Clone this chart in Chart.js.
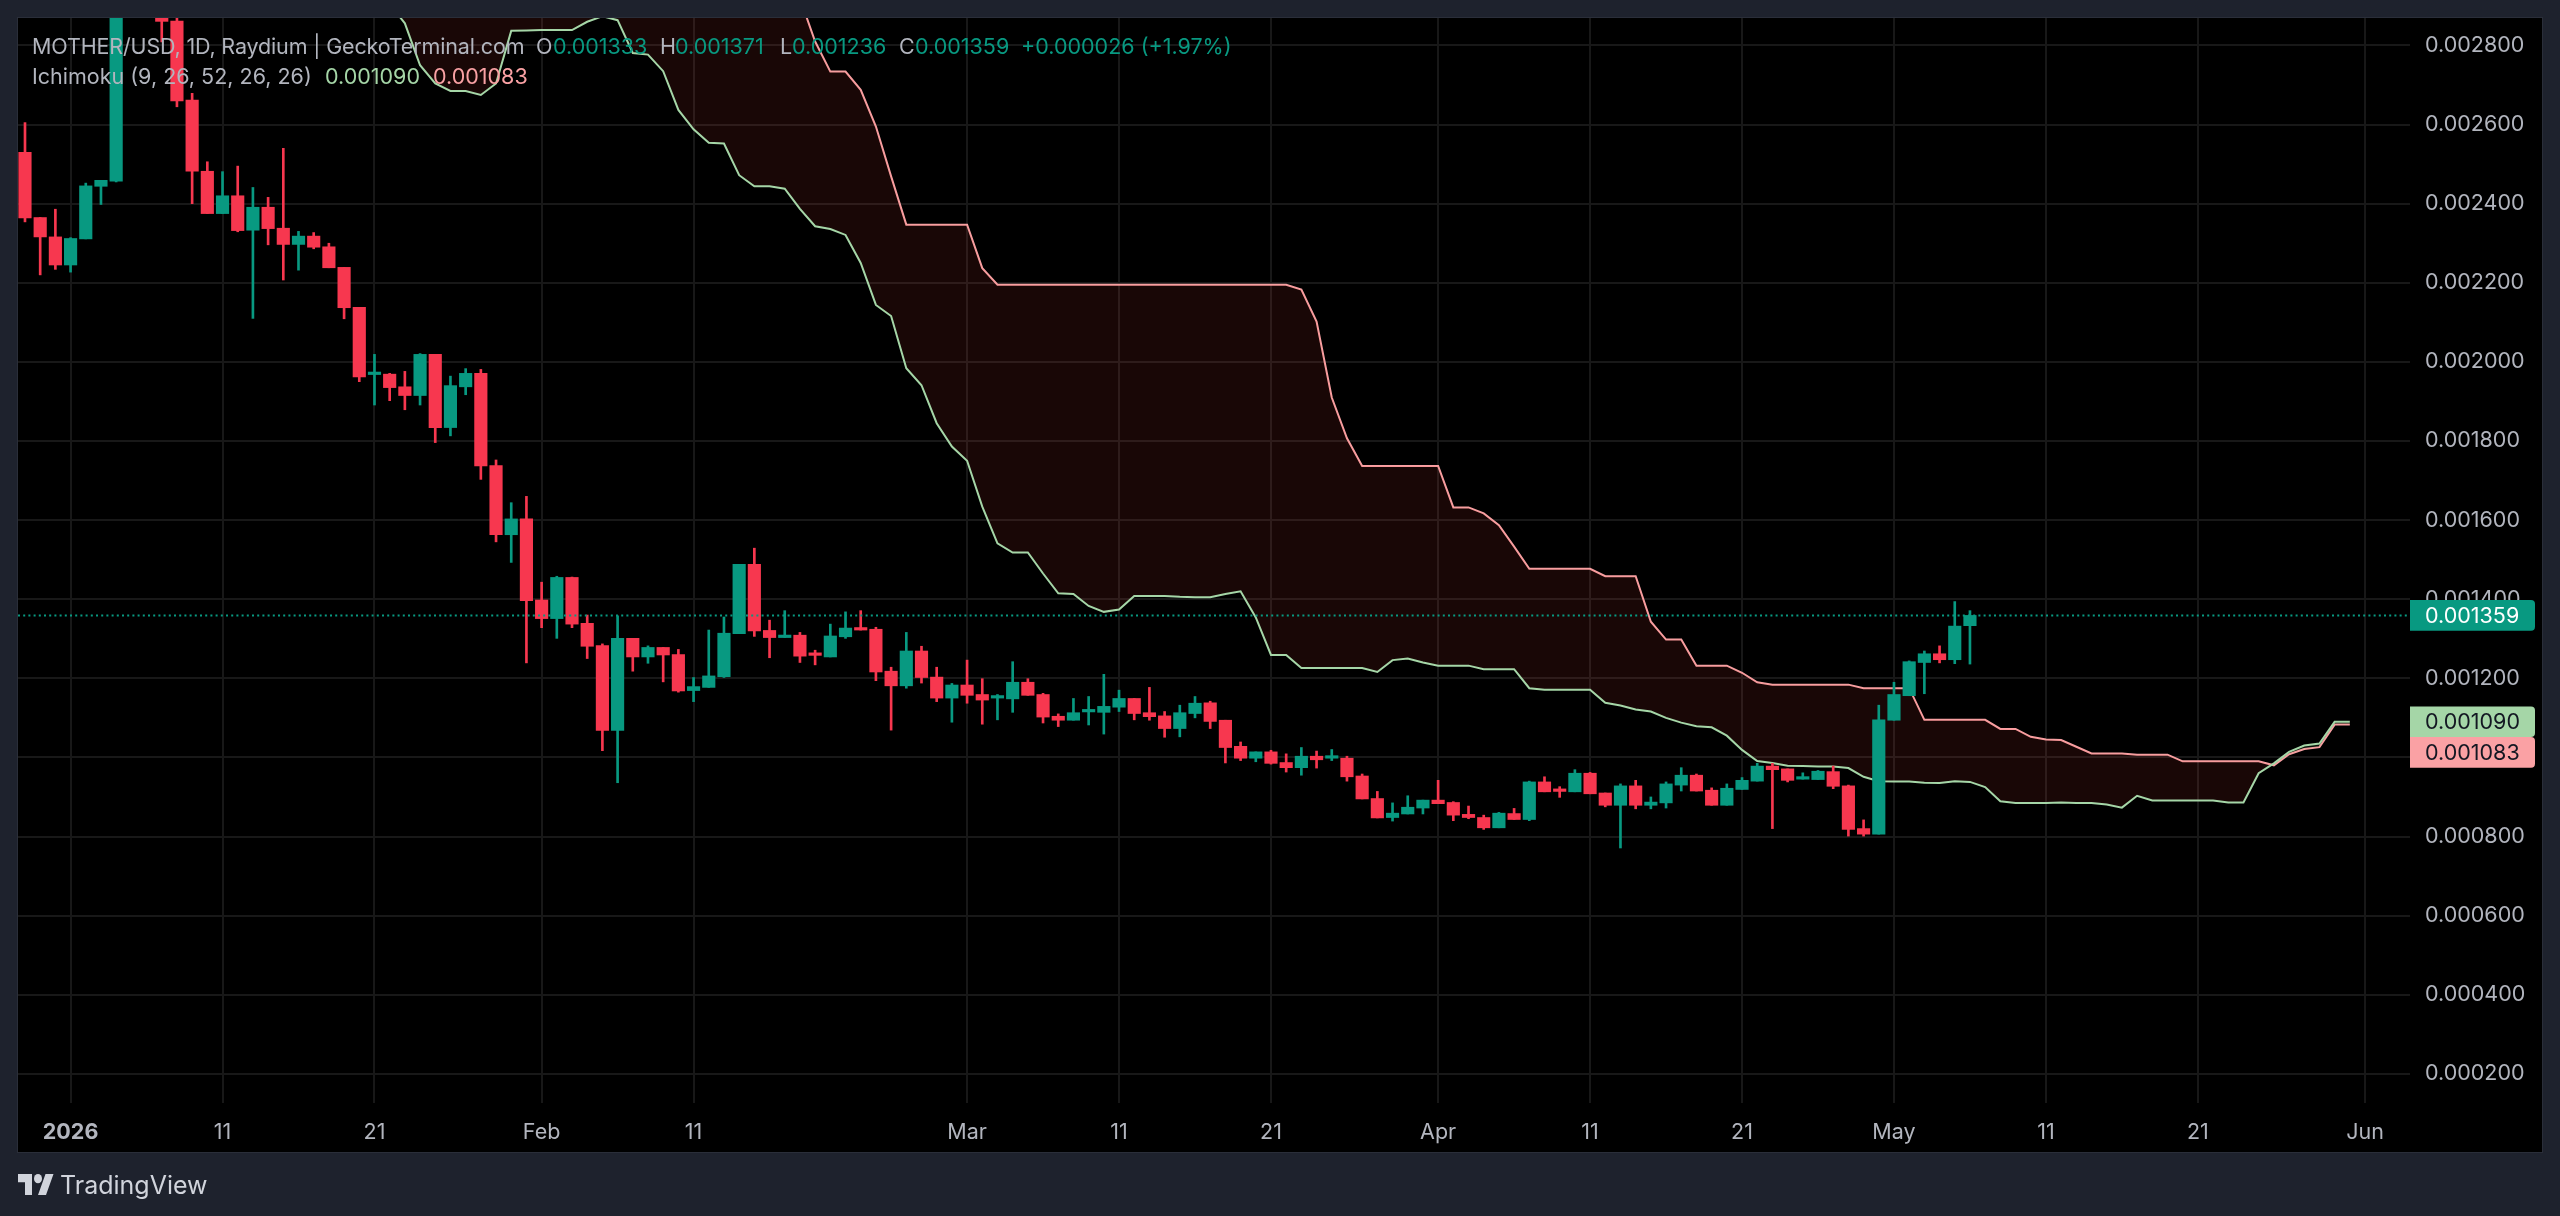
<!DOCTYPE html>
<html>
<head>
<meta charset="utf-8">
<title>MOTHER/USD</title>
<script src="https://cdn.jsdelivr.net/npm/chart.js@4"></script>
<style>
  html, body { margin: 0; padding: 0; width: 2560px; height: 1216px; background: #1e222d; overflow: hidden; }
  canvas { position: absolute; left: 0; top: 0; }
  .t { position: absolute; white-space: pre; font-family: Inter, "Noto Sans", sans-serif; font-size: 21.5px; line-height: 30px; }
  .g { color: #b2b5be; } .u { color: #089981; } .a { color: #a5d6a7; } .b { color: #faa1a4; }
  #brand { position: absolute; left: 18px; top: 1174px; width: 36px; height: 21px; }
  #brandText { left: 60px; top: 1170px; color: #d1d4dc; font-size: 25px; }
</style>
</head>
<body>
<canvas id="c" width="2560" height="1216"></canvas>
<div class="t g" style="left:32px;top:31px;letter-spacing:-0.15px">MOTHER/USD, 1D, Raydium | GeckoTerminal.com</div>
<div class="t g" style="left:536px;top:31px">O</div><div class="t u" style="left:553px;top:31px">0.001333</div>
<div class="t g" style="left:660px;top:31px">H</div><div class="t u" style="left:675px;top:31px">0.001371</div>
<div class="t g" style="left:780px;top:31px">L</div><div class="t u" style="left:792px;top:31px">0.001236</div>
<div class="t g" style="left:899px;top:31px">C</div><div class="t u" style="left:915px;top:31px">0.001359</div>
<div class="t u" style="left:1021px;top:31px">+0.000026 (+1.97%)</div>
<div class="t g" style="left:32px;top:61px">Ichimoku (9, 26, 52, 26, 26)</div>
<div class="t a" style="left:325px;top:61px">0.001090</div>
<div class="t b" style="left:433px;top:61px">0.001083</div>
<svg id="brand" viewBox="0 4 36 18" preserveAspectRatio="none"><path fill="#d1d4dc" d="M14 22H7V11H0V4h14v18zM28 22h-8l7.5-18h8L28 22z"/><circle fill="#d1d4dc" cx="20" cy="8" r="4"/></svg>
<div class="t" id="brandText">TradingView</div>
<script>
// Daily candles start on 29 Dec 2025, i.e. three days before the 1 Jan tick.
const firstCandleDay = -3;

const opens = [0.002530,0.002365,0.002316,0.002245,0.002311,0.002444,0.002457,0.003050,0.003150,0.002950,
0.002862,0.002662,0.002482,0.002375,0.002420,0.002333,0.002391,0.002338,0.002297,0.002318,
0.002291,0.002239,0.002138,0.001968,0.001969,0.001937,0.001915,0.002019,0.001834,0.001937,
0.001971,0.001738,0.001563,0.001603,0.001398,0.001351,0.001455,0.001339,0.001283,0.001068,
0.001301,0.001254,0.001278,0.001260,0.001169,0.001177,0.001204,0.001313,0.001488,0.001321,
0.001303,0.001309,0.001260,0.001254,0.001305,0.001327,0.001324,0.001218,0.001181,0.001269,
0.001203,0.001150,0.001183,0.001159,0.001150,0.001148,0.001190,0.001159,0.001104,0.001094,
0.001115,0.001114,0.001127,0.001149,0.001113,0.001105,0.001073,0.001111,0.001138,0.001094,
0.001028,0.000998,0.001014,0.000987,0.000974,0.001003,0.000998,0.000998,0.000953,0.000896,
0.000848,0.000857,0.000872,0.000892,0.000886,0.000856,0.000848,0.000822,0.000858,0.000843,
0.000938,0.000917,0.000913,0.000960,0.000910,0.000879,0.000928,0.000879,0.000885,0.000930,
0.000955,0.000917,0.000879,0.000919,0.000940,0.000978,0.000971,0.000945,0.000944,0.000964,
0.000928,0.000820,0.000806,0.001094,0.001156,0.001240,0.001262,0.001247,0.001333];

const closes = [0.002364,0.002316,0.002245,0.002312,0.002445,0.002459,0.003050,0.003150,0.002950,0.002861,
0.002660,0.002482,0.002375,0.002420,0.002332,0.002391,0.002337,0.002297,0.002318,0.002290,
0.002238,0.002137,0.001962,0.001970,0.001935,0.001915,0.002019,0.001834,0.001940,0.001971,
0.001737,0.001563,0.001603,0.001396,0.001351,0.001455,0.001337,0.001281,0.001068,0.001301,
0.001254,0.001278,0.001259,0.001168,0.001179,0.001206,0.001314,0.001488,0.001320,0.001303,
0.001308,0.001256,0.001258,0.001307,0.001327,0.001322,0.001216,0.001181,0.001269,0.001202,
0.001150,0.001183,0.001157,0.001145,0.001152,0.001190,0.001157,0.001102,0.001094,0.001113,
0.001117,0.001129,0.001149,0.001111,0.001103,0.001073,0.001113,0.001137,0.001091,0.001025,
0.000998,0.001014,0.000985,0.000974,0.001003,0.000994,0.001000,0.000951,0.000895,0.000847,
0.000859,0.000874,0.000892,0.000883,0.000854,0.000848,0.000822,0.000859,0.000843,0.000938,
0.000913,0.000914,0.000960,0.000908,0.000879,0.000928,0.000879,0.000887,0.000933,0.000955,
0.000915,0.000879,0.000922,0.000942,0.000978,0.000969,0.000942,0.000947,0.000965,0.000927,
0.000818,0.000806,0.001095,0.001159,0.001242,0.001262,0.001247,0.001332,0.001359];

const highs = [0.002605,0.002365,0.002386,0.002314,0.002452,0.002459,0.003060,0.003200,0.003180,0.002960,
0.002880,0.002679,0.002506,0.002481,0.002495,0.002441,0.002416,0.002540,0.002330,0.002327,
0.002300,0.002239,0.002138,0.002019,0.001971,0.001976,0.002021,0.002019,0.001964,0.001983,
0.001981,0.001752,0.001644,0.001660,0.001443,0.001458,0.001456,0.001360,0.001287,0.001358,
0.001301,0.001282,0.001278,0.001273,0.001202,0.001322,0.001355,0.001488,0.001529,0.001347,
0.001371,0.001316,0.001271,0.001337,0.001368,0.001371,0.001329,0.001228,0.001316,0.001281,
0.001228,0.001187,0.001246,0.001199,0.001159,0.001242,0.001199,0.001162,0.001110,0.001149,
0.001154,0.001210,0.001170,0.001149,0.001177,0.001116,0.001132,0.001154,0.001142,0.001094,
0.001039,0.001014,0.001018,0.001009,0.001025,0.001016,0.001020,0.001003,0.000958,0.000914,
0.000885,0.000903,0.000892,0.000942,0.000888,0.000877,0.000854,0.000861,0.000871,0.000940,
0.000951,0.000926,0.000969,0.000962,0.000910,0.000933,0.000942,0.000900,0.000938,0.000974,
0.000958,0.000923,0.000933,0.000949,0.000985,0.000985,0.000971,0.000961,0.000967,0.000978,
0.000930,0.000842,0.001132,0.001190,0.001244,0.001269,0.001282,0.001394,0.001371];

const lows = [0.002354,0.002220,0.002234,0.002227,0.002311,0.002398,0.002455,0.003000,0.002900,0.002809,
0.002645,0.002400,0.002375,0.002375,0.002329,0.002110,0.002296,0.002207,0.002232,0.002286,
0.002238,0.002109,0.001950,0.001891,0.001902,0.001879,0.001891,0.001796,0.001813,0.001917,
0.001703,0.001545,0.001493,0.001239,0.001328,0.001301,0.001328,0.001250,0.001017,0.000936,
0.001218,0.001238,0.001191,0.001165,0.001141,0.001177,0.001202,0.001313,0.001306,0.001252,
0.001303,0.001240,0.001234,0.001254,0.001301,0.001322,0.001194,0.001069,0.001175,0.001188,
0.001141,0.001089,0.001137,0.001084,0.001095,0.001114,0.001157,0.001087,0.001078,0.001094,
0.001082,0.001059,0.001116,0.001095,0.001094,0.001051,0.001052,0.001100,0.001073,0.000986,
0.000992,0.000989,0.000983,0.000963,0.000955,0.000973,0.000992,0.000940,0.000895,0.000847,
0.000839,0.000857,0.000857,0.000883,0.000840,0.000845,0.000818,0.000822,0.000843,0.000840,
0.000913,0.000899,0.000913,0.000908,0.000875,0.000771,0.000870,0.000870,0.000872,0.000915,
0.000915,0.000879,0.000879,0.000919,0.000940,0.000820,0.000938,0.000945,0.000944,0.000921,
0.000801,0.000801,0.000806,0.001094,0.001156,0.001161,0.001239,0.001237,0.001236];

// Both cloud spans start on the candle at index 22 and run 25 days past the last candle.
const cloudStartDay = 19;

const leadingSpanA = [0.003000,0.002960,0.002905,0.002856,0.002750,0.002704,0.002685,0.002685,0.002675,0.002704,
0.002837,0.002838,0.002839,0.002839,0.002839,0.002860,0.002874,0.002864,0.002781,0.002777,
0.002735,0.002637,0.002588,0.002554,0.002552,0.002472,0.002444,0.002444,0.002438,0.002387,
0.002343,0.002336,0.002321,0.002250,0.002144,0.002116,0.001984,0.001941,0.001845,0.001786,
0.001750,0.001634,0.001541,0.001518,0.001518,0.001465,0.001415,0.001413,0.001383,0.001368,
0.001374,0.001408,0.001408,0.001408,0.001406,0.001405,0.001405,0.001413,0.001420,0.001354,
0.001259,0.001259,0.001226,0.001226,0.001226,0.001226,0.001226,0.001216,0.001246,0.001250,
0.001240,0.001232,0.001232,0.001232,0.001223,0.001223,0.001223,0.001175,0.001171,0.001171,
0.001171,0.001171,0.001138,0.001131,0.001121,0.001116,0.001100,0.001088,0.001079,0.001076,
0.001055,0.001019,0.000991,0.000986,0.000979,0.000978,0.000977,0.000977,0.000973,0.000951,
0.000940,0.000939,0.000939,0.000936,0.000935,0.000940,0.000938,0.000925,0.000889,0.000885,
0.000885,0.000885,0.000886,0.000885,0.000885,0.000881,0.000873,0.000903,0.000891,0.000891,
0.000891,0.000891,0.000891,0.000886,0.000886,0.000960,0.000985,0.001014,0.001030,0.001035,
0.001090,0.001090];

const leadingSpanB = [0.003100,0.003100,0.003100,0.003100,0.003100,0.003100,0.003100,0.003100,0.003100,0.003100,
0.003100,0.003100,0.003100,0.003100,0.003100,0.003100,0.003100,0.003100,0.003100,0.003100,
0.003100,0.003100,0.003100,0.003100,0.003100,0.003100,0.003100,0.003100,0.003100,0.002919,
0.002810,0.002734,0.002734,0.002688,0.002595,0.002469,0.002347,0.002347,0.002347,0.002347,
0.002347,0.002237,0.002195,0.002195,0.002195,0.002195,0.002195,0.002195,0.002195,0.002195,
0.002195,0.002195,0.002195,0.002195,0.002195,0.002195,0.002195,0.002195,0.002195,0.002195,
0.002195,0.002195,0.002183,0.002102,0.001910,0.001807,0.001737,0.001737,0.001737,0.001737,
0.001737,0.001737,0.001632,0.001632,0.001617,0.001587,0.001533,0.001477,0.001477,0.001477,
0.001477,0.001477,0.001458,0.001458,0.001458,0.001343,0.001298,0.001298,0.001232,0.001232,
0.001232,0.001214,0.001190,0.001184,0.001184,0.001184,0.001184,0.001184,0.001184,0.001175,
0.001175,0.001175,0.001175,0.001095,0.001095,0.001095,0.001095,0.001095,0.001072,0.001072,
0.001052,0.001045,0.001044,0.001027,0.001010,0.001010,0.001010,0.001007,0.001007,0.001007,
0.000990,0.000990,0.000990,0.000990,0.000990,0.000990,0.000980,0.001008,0.001021,0.001026,
0.001083,0.001083];

const priceTicks = [0.0002,0.0004,0.0006,0.0008,0.0010,0.0012,0.0014,0.0016,0.0018,0.0020,0.0022,0.0024,0.0026,0.0028];
const timeTickDays = [0,10,20,31,41,59,69,79,90,100,110,120,130,140,151];
const timeTickLabels = ['2026','11','21','Feb','11','Mar','11','21','Apr','11','21','May','11','21','Jun'];

const UP = '#089981', DOWN = '#f7374f', SPAN_A = '#a5d6a7', SPAN_B = '#faa1a4';
const GRID = '#181818', AXIS_TEXT = '#b2b5be';
const FONT = 'Inter, "Noto Sans", sans-serif';

const xMin = -3.46, xMax = 153.96, yMin = 0.0001262, yMax = 0.0028695;
const lastClose = closes[closes.length - 1];

const candleDays = opens.map((_, i) => firstCandleDay + i);
const candleColors = opens.map((o, i) => closes[i] >= o ? UP : DOWN);
const series = arr => arr.map((y, i) => ({ x: cloudStartDay + i, y }));

// Panel background, frame and the value tags on the price scale.
const panelPlugin = {
  id: 'panel',
  beforeDraw(chart) {
    const { ctx } = chart;
    ctx.save();
    ctx.fillStyle = '#000';
    ctx.fillRect(18, 18, 2524, 1134);
    ctx.strokeStyle = '#2a2e39';
    ctx.lineWidth = 1;
    ctx.strokeRect(17.5, 17.5, 2525, 1135);
    ctx.restore();
  },
  afterDatasetsDraw(chart) {
    const { ctx, scales: { y } } = chart;
    const h = 30.6, left = chart.chartArea.right, w = 125;
    const tags = [
      { v: lastClose, bg: UP, fg: '#fff' },
      { v: leadingSpanA[leadingSpanA.length - 1], bg: SPAN_A, fg: '#131722' },
      { v: leadingSpanB[leadingSpanB.length - 1], bg: SPAN_B, fg: '#131722' }
    ];
    let prevBottom = -Infinity;
    ctx.save();
    ctx.font = '21.5px ' + FONT;
    ctx.textBaseline = 'middle';
    for (const t of tags) {
      const top = Math.max(y.getPixelForValue(t.v) - h / 2, prevBottom);
      prevBottom = top + h;
      ctx.fillStyle = t.bg;
      ctx.beginPath();
      ctx.roundRect(left, top, w, h, [0, 4, 4, 0]);
      ctx.fill();
      ctx.fillStyle = t.fg;
      ctx.textAlign = 'left';
      ctx.fillText(t.v.toFixed(6), left + 15, top + h / 2 + 1);
    }
    ctx.restore();
  }
};

// Fixes an axis to a set thickness and drops the room kept for overhanging end labels.
const fitAxis = (prop, size) => axis => {
  axis[prop] = size;
  axis.paddingTop = axis.paddingBottom = axis.paddingLeft = axis.paddingRight = 0;
};

new Chart(document.getElementById('c'), {
  type: 'bar',
  plugins: [panelPlugin],
  data: {
    datasets: [
      {
        type: 'line', label: 'Last price',
        data: [{ x: xMin, y: lastClose }, { x: xMax, y: lastClose }],
        borderColor: UP, borderWidth: 2, borderDash: [2, 3.2], pointRadius: 0, fill: false
      },
      {
        label: 'Body',
        data: candleDays.map((x, i) => ({ x, y: [opens[i], closes[i]] })),
        backgroundColor: candleColors, barThickness: 12.5, minBarLength: 2.5, grouped: false
      },
      {
        label: 'Wick',
        data: candleDays.map((x, i) => ({ x, y: [lows[i], highs[i]] })),
        backgroundColor: candleColors, barThickness: 2, grouped: false
      },
      {
        type: 'line', label: 'Leading Span A',
        data: series(leadingSpanA),
        borderColor: SPAN_A, borderWidth: 2, pointRadius: 0, tension: 0, clip: 0,
        fill: { target: '+1', above: 'rgba(76,175,80,0.1)', below: 'rgba(244,67,54,0.1)' }
      },
      {
        type: 'line', label: 'Leading Span B',
        data: series(leadingSpanB),
        borderColor: SPAN_B, borderWidth: 2, pointRadius: 0, tension: 0, clip: 0, fill: false
      }
    ]
  },
  options: {
    responsive: false,
    animation: false,
    devicePixelRatio: 1,
    layout: { padding: { left: 18, top: 18, right: 18, bottom: 64 } },
    plugins: { legend: { display: false }, tooltip: { enabled: false } },
    scales: {
      x: {
        type: 'linear', min: xMin, max: xMax, offset: false,
        border: { display: false },
        grid: { color: GRID, lineWidth: 2, drawTicks: false, offset: false },
        afterBuildTicks(axis) { axis.ticks = timeTickDays.map(value => ({ value })); },
        afterFit: fitAxis('height', 49),
        ticks: {
          autoSkip: false, maxRotation: 0, padding: 17, color: AXIS_TEXT,
          callback: v => timeTickLabels[timeTickDays.indexOf(v)],
          font: ctx => ({ family: FONT, size: 21.5, weight: ctx.index === 0 ? '700' : '400' })
        }
      },
      y: {
        position: 'right', min: yMin, max: yMax,
        border: { display: false },
        grid: { color: GRID, lineWidth: 2, drawTicks: false },
        afterBuildTicks(axis) { axis.ticks = priceTicks.map(value => ({ value })); },
        afterFit: fitAxis('width', 132),
        ticks: {
          autoSkip: false, padding: 15, color: AXIS_TEXT, align: 'center',
          callback: v => v.toFixed(6),
          font: { family: FONT, size: 21.5 }
        }
      }
    }
  }
});
</script>
</body>
</html>
